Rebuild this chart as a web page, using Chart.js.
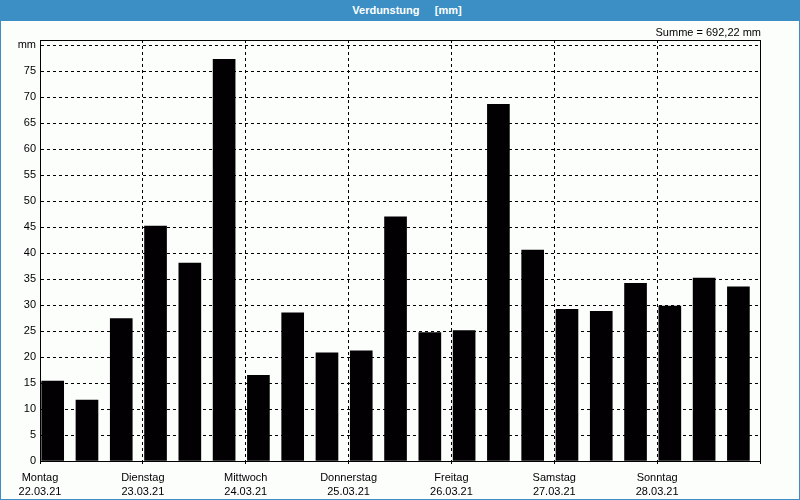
<!DOCTYPE html>
<html>
<head>
<meta charset="utf-8">
<script src="https://cdn.jsdelivr.net/npm/chart.js@4.4.1/dist/chart.umd.min.js"></script>
<style>
  body { margin: 0; background: #fff; }
  #box { position: relative; width: 800px; height: 500px; background: #fcfefc; }
  #frame { position: absolute; left: 0; top: 0; width: 800px; height: 500px; box-sizing: border-box;
           border: 1px solid #3b8fc4; pointer-events: none; }
  #head { position: absolute; left: 0; top: 0; width: 800px; height: 21px; background: #3b8fc4;
          color: #fff; font: bold 11px "Liberation Sans", Arial, sans-serif; line-height: 21px;
          text-align: center; padding-left: 14px; box-sizing: border-box; white-space: pre; }
  #summe { position: absolute; right: 39px; top: 26px; font: 11px "Liberation Sans", Arial, sans-serif; color: #000; }
  canvas { position: absolute; left: 0; top: 0; }
</style>
</head>
<body>
<div id="box">
  <canvas id="chart" width="800" height="500"></canvas>
  <div id="head">Verdunstung     [mm]</div>
  <div id="summe">Summe = 692,22 mm</div>
  <div id="frame"></div>
</div>
<script>
// Tage und Daten (je 3 Messwerte pro Tag)
var dayNames = ['Montag', 'Dienstag', 'Mittwoch', 'Donnerstag', 'Freitag', 'Samstag', 'Sonntag'];
var dates = ['22.03.21', '23.03.21', '24.03.21', '25.03.21', '26.03.21', '27.03.21', '28.03.21'];
var values = [15.4, 11.7, 27.4, 45.2, 38.1, 77.3, 16.5, 28.5, 20.8, 21.2, 47.0, 24.7,
              25.1, 68.6, 40.6, 29.2, 28.8, 34.2, 29.8, 35.2, 33.5];
var yTicks = [0, 5, 10, 15, 20, 25, 30, 35, 40, 45, 50, 55, 60, 65, 70, 75, 80];
var xTicks = [0, 3, 6, 9, 12, 15, 18, 21];

var font = { family: '"Liberation Sans", Arial, sans-serif', size: 11 };

// Rahmen um die Zeichenfläche
var framePlugin = {
  id: 'frame',
  afterDatasetsDraw: function(chart) {
    var a = chart.chartArea, ctx = chart.ctx;
    var l = Math.round(a.left) + 0.5, t = Math.round(a.top) + 0.5;
    var r = Math.round(a.right) + 0.5, b = Math.round(a.bottom) + 0.5;
    ctx.save();
    ctx.strokeStyle = '#000';
    ctx.lineWidth = 1;
    ctx.strokeRect(l, t, r - l, b - t);
    ctx.restore();
  }
};

var ctx = document.getElementById('chart').getContext('2d');
new Chart(ctx, {
  type: 'bar',
  data: {
    datasets: [{
      data: values.map(function(v, i) { return { x: i + 0.37, y: v }; }),
      backgroundColor: '#030003',
      barThickness: 22
    }]
  },
  options: {
    responsive: false,
    animation: false,
    layout: { padding: { left: 0, top: 40, right: 40, bottom: 0 } },
    plugins: { legend: { display: false }, tooltip: { enabled: false } },
    scales: {
      x: {
        type: 'linear',
        min: 0,
        max: 21,
        offset: false,
        afterBuildTicks: function(scale) {
          scale.ticks = xTicks.map(function(v) { return { value: v }; });
        },
        afterFit: function(scale) { scale.height = 39; },
        grid: { color: '#000', lineWidth: 1, tickLength: 3, tickColor: '#000', offset: false },
        border: { color: '#000', dash: [3, 3] },
        ticks: {
          color: '#000',
          font: Object.assign({ lineHeight: 1.3 }, font),
          maxRotation: 0,
          autoSkip: false,
          padding: 7,
          callback: function(v) {
            var i = v / 3;
            return dayNames[i] ? [dayNames[i], dates[i]] : '';
          }
        }
      },
      y: {
        min: 0,
        max: 81,
        afterBuildTicks: function(scale) {
          scale.ticks = yTicks.map(function(v) { return { value: v }; });
        },
        afterFit: function(scale) { scale.width = 40; },
        grid: { color: '#000', lineWidth: 1, drawTicks: false },
        border: { color: '#000', dash: [3, 3] },
        ticks: {
          color: '#000',
          font: font,
          padding: 4,
          callback: function(v) { return v === 80 ? 'mm' : v; }
        }
      }
    }
  },
  plugins: [framePlugin]
});
</script>
</body>
</html>
